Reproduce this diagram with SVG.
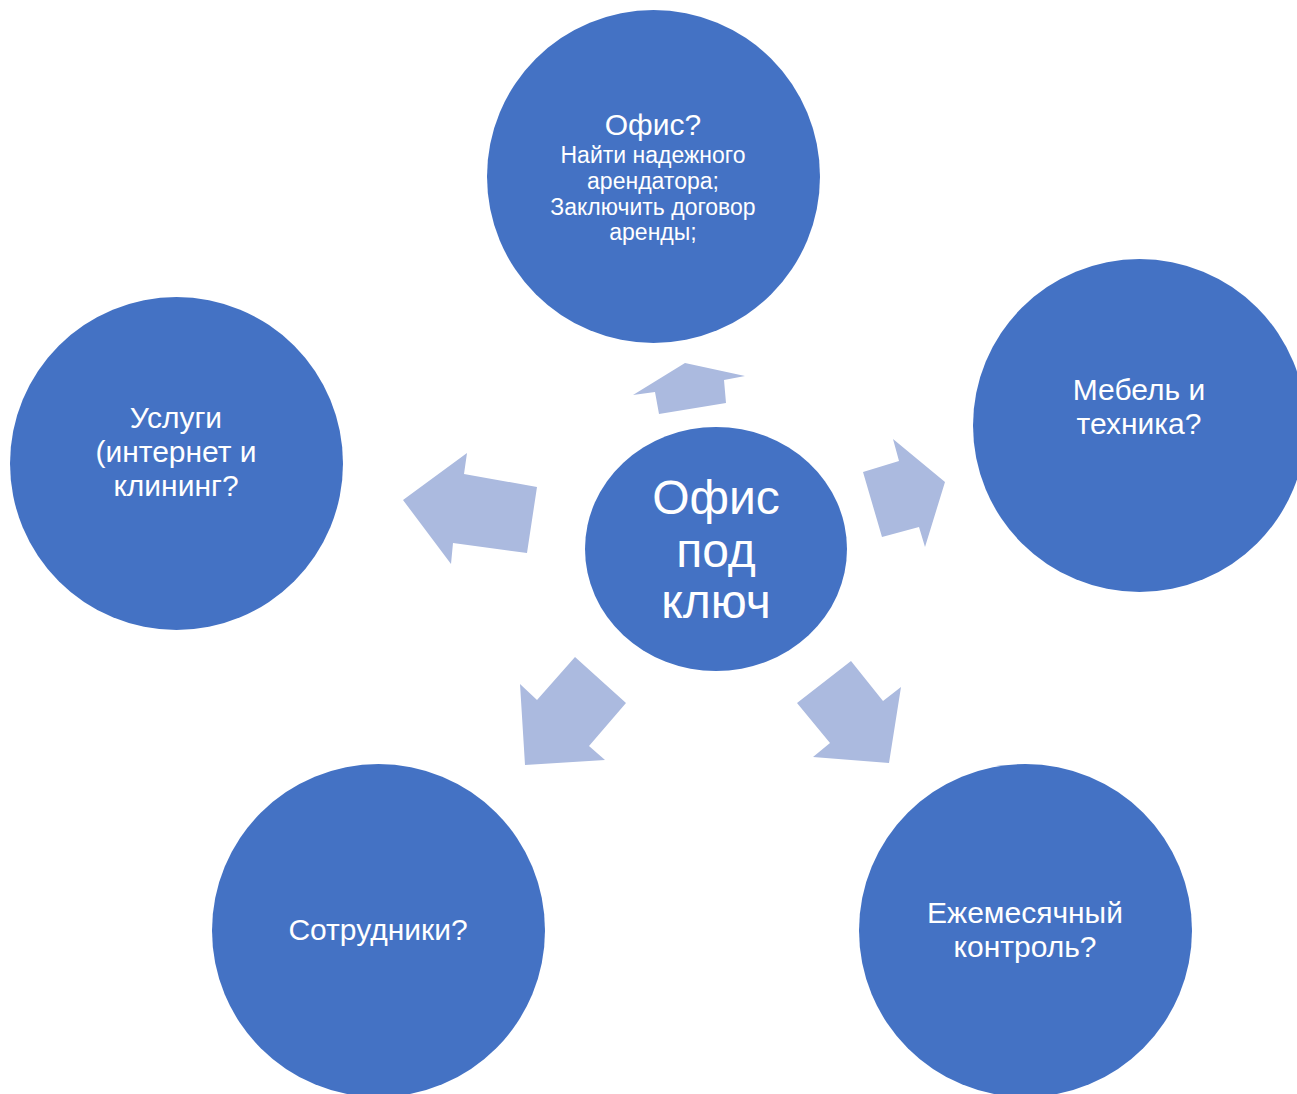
<svg xmlns="http://www.w3.org/2000/svg" width="1297" height="1094" viewBox="0 0 1297 1094">
<style>
.c{fill:#4472C4}
.a{fill:#ABBADF}
text{font-family:"Liberation Sans",Arial,sans-serif;fill:#fff;text-anchor:middle}
.m{font-size:30px}
.s{font-size:23px}
.b{font-size:48px}
</style>
<rect width="1297" height="1094" fill="#fff"/>
<g id="connectors">
<polygon class="a" points="633,395 685,363 745,376 724,380 726,403 659,414 655,392"/>
<polygon class="a" points="893,439 945,482 925,547 919,527 882,537 863,472 899,461"/>
<polygon class="a" points="403,500 467,453 464,474 537,487 527,553 453,543 451,564"/>
<polygon class="a" points="575,657 626,703 589,746 605,760 525,765 520,684 537,700"/>
<polygon class="a" points="851,661 883,701 901,687 889,763 813,757 830,743 797,703"/>
</g>
<g id="center">
<ellipse class="c" cx="716" cy="549" rx="131" ry="122"/>
<text class="b" x="716" y="514">Офис</text>
<text class="b" x="716" y="567">под</text>
<text class="b" x="716" y="618">ключ</text>
</g>
<g id="office">
<circle class="c" cx="653.5" cy="176.5" r="166.5"/>
<text class="m" x="653" y="135">Офис?</text>
<text class="s" x="653" y="163">Найти надежного</text>
<text class="s" x="653" y="189">арендатора;</text>
<text class="s" x="653" y="215">Заключить договор</text>
<text class="s" x="653" y="240">аренды;</text>
</g>
<g id="furniture">
<circle class="c" cx="1139.5" cy="425.5" r="166.5"/>
<text class="m" x="1139" y="400">Мебель и</text>
<text class="m" x="1139" y="434">техника?</text>
</g>
<g id="services">
<circle class="c" cx="176.5" cy="463.5" r="166.5"/>
<text class="m" x="176" y="428">Услуги</text>
<text class="m" x="176" y="462">(интернет и</text>
<text class="m" x="176" y="496">клининг?</text>
</g>
<g id="staff">
<circle class="c" cx="378.5" cy="930.5" r="166.5"/>
<text class="m" x="378" y="940">Сотрудники?</text>
</g>
<g id="control">
<circle class="c" cx="1025.5" cy="930.5" r="166.5"/>
<text class="m" x="1025" y="923">Ежемесячный</text>
<text class="m" x="1025" y="957">контроль?</text>
</g>
</svg>
